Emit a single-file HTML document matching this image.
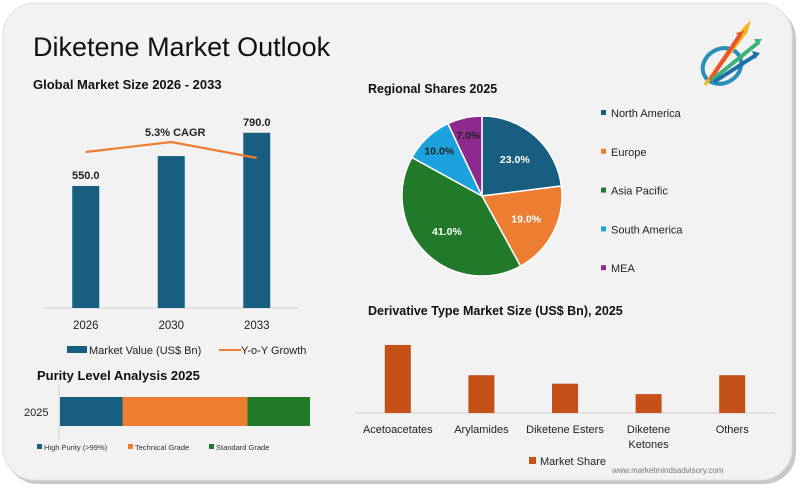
<!DOCTYPE html>
<html><head><meta charset="utf-8"><style>
body{margin:0;background:#fff;width:800px;height:488px;overflow:hidden;font-family:"Liberation Sans",sans-serif}
svg{display:block}
text{font-family:"Liberation Sans",sans-serif}
</style></head><body>
<svg id="c" width="800" height="488" viewBox="0 0 800 488">
<rect x="6" y="7" width="790" height="477" rx="32" fill="#c8c8c8"/>
<rect x="3" y="3" width="789" height="477" rx="32" fill="#f2f2f2" stroke="#e0e0e0"/>
<text x="33" y="56" font-size="27" fill="#111">Diketene Market Outlook</text>
<g>
<ellipse cx="722" cy="66" rx="20" ry="17" fill="none" stroke="#2a8fb8" stroke-width="4" transform="rotate(-30 722 66)"/>
<path d="M705 85 L744 29 L748 25 L746 32 Z" fill="#f2b51c" stroke="#f2b51c" stroke-width="3"/>
<path d="M710 80 L740 35" stroke="#e8552e" stroke-width="4"/><path d="M736 33 L744 31 L740 38 Z" fill="#e8552e"/>
<path d="M712 80 L759 42" stroke="#3bb27a" stroke-width="4"/><path d="M754 39 L762 39 L758 45 Z" fill="#3bb27a"/>
<path d="M714 82 L756 55" stroke="#1d6fa8" stroke-width="4"/><path d="M752 51 L760 53 L755 59 Z" fill="#1d6fa8"/>
</g>
<text x="33" y="89" font-size="13" font-weight="bold" fill="#111">Global Market Size 2026 - 2033</text>
<g id="left"></g>
<text x="37" y="380" font-size="13" font-weight="bold" fill="#111">Purity Level Analysis 2025</text>
<g id="purity"></g>
<text x="368" y="93" font-size="12.5" font-weight="bold" fill="#111">Regional Shares 2025</text>
<g id="pie"></g>
<text x="368" y="315" font-size="12.5" font-weight="bold" fill="#111">Derivative Type Market Size (US$ Bn), 2025</text>
<g id="deriv"></g>
<text x="612" y="473" font-size="8" fill="#777">www.marketmindsadvisory.com</text>
</svg>
<script>
const years=["2026","2030","2033"];
const marketValues=[550,685,790];
const valueLabels=["550.0","","790.0"];
const growthValues=[5.3,5.8,5.0];
const purityCats=["High Purity (>99%)","Technical Grade","Standard Grade"];
const purityValues=[25,50,25];
const regions=["North America","Europe","Asia Pacific","South America","MEA"];
const regionShares=[23,19,41,10,7];
const derivCats=["Acetoacetates","Arylamides","Diketene Esters","Diketene Ketones","Others"];
const derivValues=[3.6,2.0,1.55,1.0,2.0];

const NS="http://www.w3.org/2000/svg";
function mk(p,t,a,txt){const e=document.createElementNS(NS,t);for(const k in a)e.setAttribute(k,a[k]);if(txt!==undefined)e.textContent=txt;p.appendChild(e);return e;}

// Left bar chart
const L=document.getElementById('left');
const base=308, xStart=43, band=85.5;
const yV=v=>base-v*0.2218;
const yG=v=>152-(v-5.3)*20;
const xC=i=>xStart+band*(i+0.5);
let ax=mk(L,'line',{x1:43,y1:base,x2:298,y2:base,stroke:'#d0d0d0'});

years.forEach((y,i)=>{
  const b=mk(L,'rect',{x:xC(i)-13.5,y:yV(marketValues[i]),width:27,height:base-yV(marketValues[i]),fill:'#175e80'});
  
  const t=mk(L,'text',{x:xC(i),y:325+4,'font-size':11.5,'text-anchor':'middle',fill:'#222'},y);
  
  if(valueLabels[i]){const v=mk(L,'text',{x:xC(i),y:yV(marketValues[i])-7,'font-size':11,'font-weight':'bold','text-anchor':'middle',fill:'#222'},valueLabels[i]);
  }
});
const pts=growthValues.map((g,i)=>xC(i)+','+yG(g)).join(' ');
const gl=mk(L,'polyline',{points:pts,fill:'none',stroke:'#ed7d31','stroke-width':2.2});

const cg=mk(L,'text',{x:xC(1)+4,y:yG(growthValues[1])-6,'font-size':11,'font-weight':'bold','text-anchor':'middle',fill:'#222'},'5.3% CAGR');

let lg=mk(L,'rect',{x:67,y:346,width:20,height:7,fill:'#175e80'});

lg=mk(L,'text',{x:89,y:354,'font-size':11,fill:'#222'},'Market Value (US$ Bn)');

lg=mk(L,'line',{x1:219,y1:350,x2:241,y2:350,stroke:'#ed7d31','stroke-width':2});

lg=mk(L,'text',{x:241,y:354,'font-size':11,fill:'#222'},'Y-o-Y Growth');


// Purity stacked bar
const P=document.getElementById('purity');
const pCols=['#175e80','#ed7d31','#217a2a'];
const pTot=purityValues.reduce((a,b)=>a+b,0), pX0=60, pW=250;
let pa=mk(P,'line',{x1:59,y1:384,x2:59,y2:440,stroke:'#d0d0d0'});

pa=mk(P,'text',{x:24,y:416,'font-size':11,fill:'#222'},'2025');

let acc=0;
const legX=[37,128,209];
purityValues.forEach((v,i)=>{
  const r=mk(P,'rect',{x:pX0+acc/pTot*pW,y:397,width:v/pTot*pW,height:29,fill:pCols[i]});
  
  acc+=v;
  const s=mk(P,'rect',{x:legX[i],y:444,width:5,height:5,fill:pCols[i]});
  
  const t=mk(P,'text',{x:legX[i]+7,y:450,'font-size':7.5,fill:'#333'},purityCats[i]);
  
});

// Pie
const G=document.getElementById('pie');
const cols=['#175e80','#ed7d31','#217a2a','#1ba1dc','#8e2a8e'];
const labCols=['#fff','#fff','#fff','#222','#222'];
const cx=482,cy=196,R=80;
const tot=regionShares.reduce((a,b)=>a+b,0);
let a0=-Math.PI/2;
regionShares.forEach((v,i)=>{
  const a1=a0+v/tot*2*Math.PI;
  const x0=cx+R*Math.cos(a0),y0=cy+R*Math.sin(a0),x1=cx+R*Math.cos(a1),y1=cy+R*Math.sin(a1);
  const p=mk(G,'path',{d:`M${cx},${cy}L${x0},${y0}A${R},${R} 0 ${a1-a0>Math.PI?1:0} 1 ${x1},${y1}Z`,fill:cols[i],stroke:'#fff','stroke-width':1.5});
  
  const am=(a0+a1)/2, rf=i>=3?0.78:0.62;
  const t=mk(G,'text',{x:cx+R*rf*Math.cos(am),y:cy+R*rf*Math.sin(am)+4,'font-size':10.5,'font-weight':'bold','text-anchor':'middle',fill:labCols[i]},v.toFixed(1)+'%');
  
  const s=mk(G,'rect',{x:601,y:110+i*38.8,width:5,height:5,fill:cols[i]});
  
  const lt=mk(G,'text',{x:611,y:117+i*38.8,'font-size':11,fill:'#222'},regions[i]);
  
  a0=a1;
});

// Derivative bars
const D=document.getElementById('deriv');
const dBase=413, dX0=356, dBand=83.6;
const yD=v=>dBase-v*18.9;
let da=mk(D,'line',{x1:355,y1:dBase,x2:775,y2:dBase,stroke:'#d0d0d0'});

derivCats.forEach((c,i)=>{
  const x=dX0+dBand*(i+0.5);
  const r=mk(D,'rect',{x:x-13,y:yD(derivValues[i]),width:26,height:dBase-yD(derivValues[i]),fill:'#c55119'});
  
  const words=c==="Diketene Ketones"?["Diketene","Ketones"]:[c];
  words.forEach((w,j)=>{const t=mk(D,'text',{x:x,y:433+j*15,'font-size':11,'text-anchor':'middle',fill:'#222'},w);
  });
});
da=mk(D,'rect',{x:529,y:457,width:7,height:7,fill:'#c55119'});

da=mk(D,'text',{x:540,y:465,'font-size':11,fill:'#222'},'Market Share');

</script>
</body></html>
